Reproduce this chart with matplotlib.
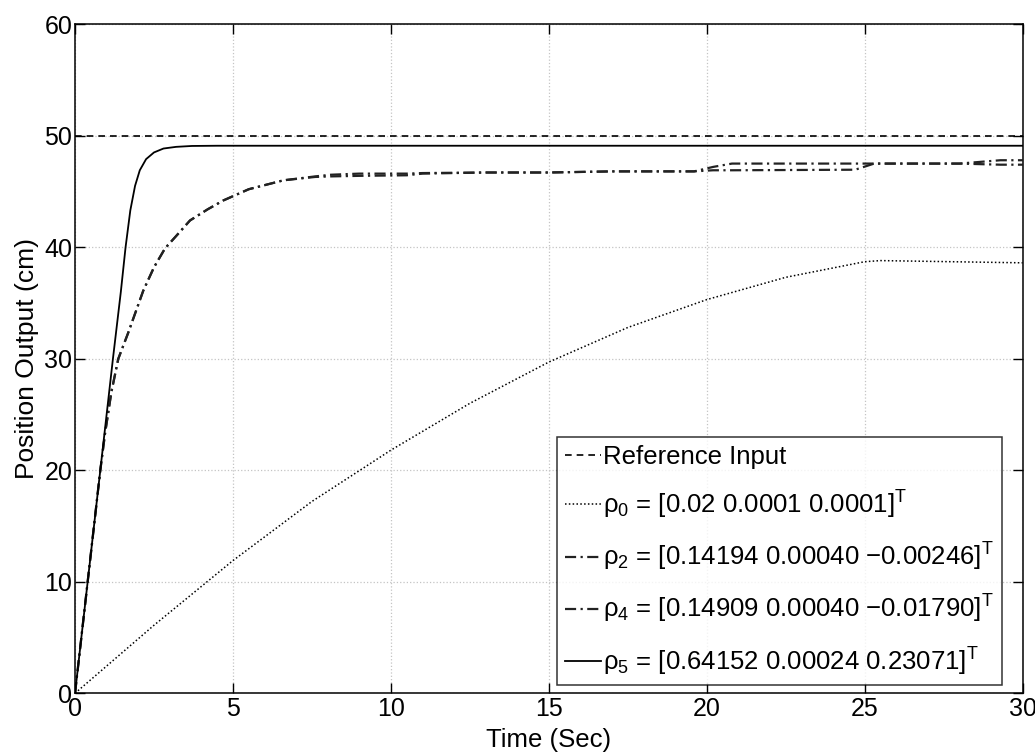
import matplotlib.pyplot as plt
import numpy as np

plt.rcParams['font.family'] = ['Liberation Sans', 'DejaVu Sans']
plt.rcParams['mathtext.fontset'] = 'custom'
plt.rcParams['mathtext.rm'] = 'Liberation Sans'
plt.rcParams['mathtext.it'] = 'Liberation Sans'

# reference input
t_ref = [0, 30]
y_ref = [50, 50]

# rho_0 (slow, dotted)
t0 = [0, 2.5, 5, 7.5, 10, 12.5, 15, 17.5, 20, 22.5, 25, 25.5, 30]
y0 = [0, 6.1, 11.9, 17.2, 21.8, 26.0, 29.7, 32.8, 35.3, 37.3, 38.7, 38.8, 38.6]

# rho_2 / rho_4 (dash-dot, almost on top of each other)
t24 = [0, 0.4, 0.8, 0.95, 1.15, 1.37, 1.68, 2.16, 2.5, 2.85, 3.2, 3.64, 4.2, 4.7,
       5.5, 6.6, 7.6, 8.1, 9, 10.5, 11, 13, 15, 17, 19.6, 20.2, 20.8, 24.7, 25.3,
       28, 29.3, 30]
y2 = [0, 10, 20, 23.3, 27, 30, 32.3, 36.1, 38.2, 39.9, 41.0, 42.4, 43.4, 44.2,
      45.2, 46.0, 46.35, 46.5, 46.6, 46.6, 46.65, 46.7, 46.7, 46.8, 46.8, 47.2, 47.5,
      47.5, 47.5, 47.5, 47.8, 47.8]
y4 = [0, 10, 20, 23.3, 27, 30, 32.3, 36.1, 38.2, 39.9, 41.0, 42.4, 43.4, 44.2,
      45.2, 46.0, 46.3, 46.35, 46.4, 46.45, 46.6, 46.7, 46.7, 46.8, 46.8, 46.9, 46.9,
      46.95, 47.5, 47.5, 47.4, 47.4]

# rho_5 (fast, solid)
t5 = [0, 0.4, 0.8, 1.2, 1.45, 1.6, 1.75, 1.9, 2.05, 2.25, 2.5, 2.8, 3.2, 3.7, 4.5, 6, 30]
y5 = [0, 10, 20, 30, 36, 40, 43.3, 45.5, 46.9, 47.9, 48.5, 48.85, 49.0, 49.08, 49.1, 49.1, 49.1]

labels = ['Reference Input',
          'ρ$_0$ = [0.02 0.0001 0.0001]$^{\\mathrm{T}}$',
          'ρ$_2$ = [0.14194 0.00040 \u22120.00246]$^{\\mathrm{T}}$',
          'ρ$_4$ = [0.14909 0.00040 \u22120.01790]$^{\\mathrm{T}}$',
          'ρ$_5$ = [0.64152 0.00024 0.23071]$^{\\mathrm{T}}$']

fig = plt.figure(figsize=(10.35, 7.56), dpi=100)
ax = fig.add_axes([0.0725, 0.083, 0.9155, 0.885])

ax.plot(t_ref, y_ref, color='black', ls=(0, (4, 3)), lw=1.2, label=labels[0])
ax.plot(t0, y0, color='black', ls=(0, (1, 1.5)), lw=1.1, label=labels[1])
ax.plot(t24, y2, color='#222222', ls=(0, (5, 2, 1, 2)), lw=1.6, label=labels[2])
ax.plot(t24, y4, color='#222222', ls=(0, (5, 2, 1, 2)), lw=1.6, label=labels[3])
ax.plot(t5, y5, color='black', ls='-', lw=1.3, label=labels[4])

ax.set_xlim(0, 30)
ax.set_ylim(0, 60)
ax.set_xticks([0, 5, 10, 15, 20, 25, 30])
ax.set_yticks([0, 10, 20, 30, 40, 50, 60])
ax.tick_params(direction='in', top=True, right=True, labelsize=18, length=7, width=1)
ax.tick_params(axis='y', pad=2)
ax.tick_params(axis='x', pad=3)
ax.grid(True, color='#c4c4c4', ls=':', lw=0.9)
for s in ax.spines.values():
    s.set_linewidth(1.1)

ax.set_xlabel('Time (Sec)', fontsize=18.5)
ax.xaxis.set_label_coords(0.5, -0.052)
ax.set_ylabel('Position Output (cm)', fontsize=19, labelpad=4)

leg = ax.legend(loc='lower right', bbox_to_anchor=(0.978, 0.012), fontsize=18.5,
                frameon=True, fancybox=False, edgecolor='black', handlelength=1.4,
                handletextpad=0.1, borderpad=0.3, labelspacing=0.78, borderaxespad=0)
leg.get_frame().set_linewidth(1.1)

fig.savefig('out.png', dpi=100)
